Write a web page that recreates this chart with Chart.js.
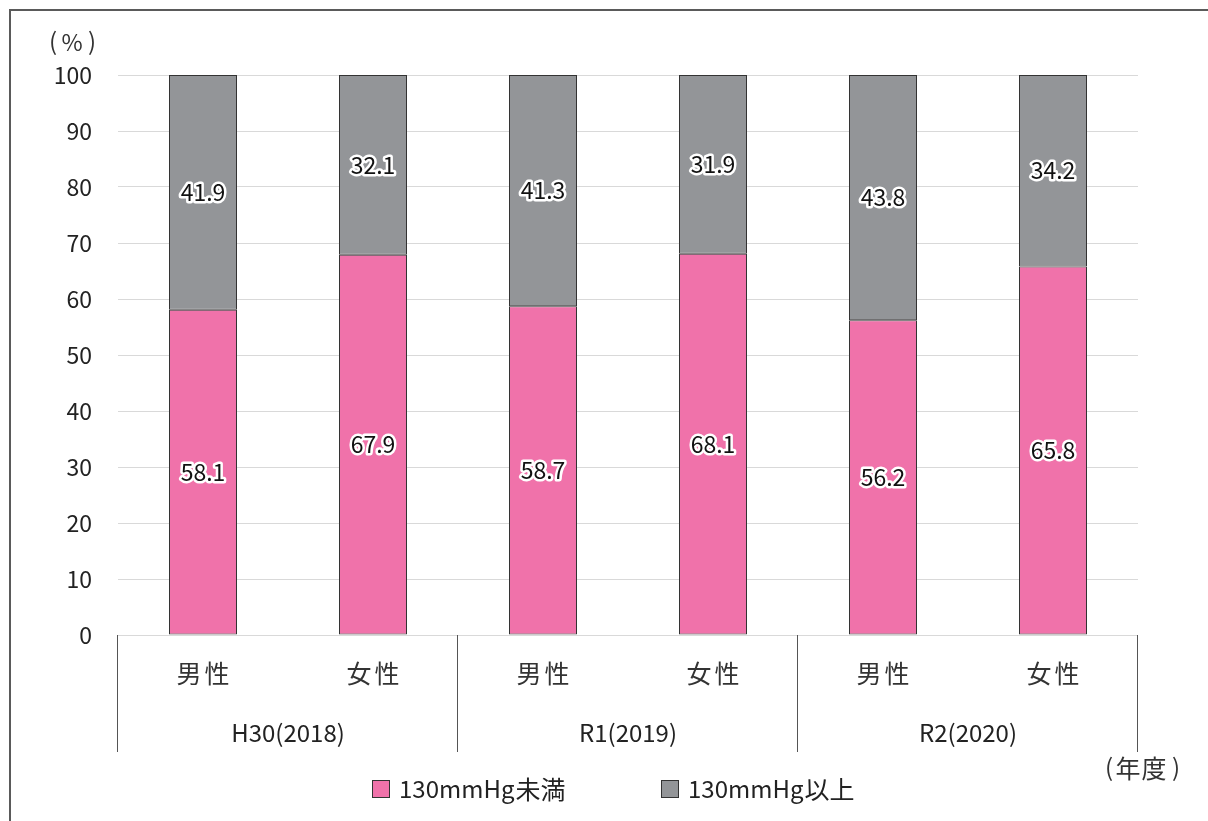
<!DOCTYPE html>
<html>
<head>
<meta charset="utf-8">
<script src="https://cdn.jsdelivr.net/npm/chart.js@4/dist/chart.umd.min.js"></script>
<style>
  html, body { margin: 0; padding: 0; background: #fff; }
  #wrap { width: 1208px; height: 821px; position: relative; }
</style>
</head>
<body>
<div id="wrap"><canvas id="chart"></canvas></div>
<script>
// データ
const sexLabels = ['男性', '女性', '男性', '女性', '男性', '女性'];
const yearLabels = ['H30(2018)', 'R1(2019)', 'R2(2020)'];
const seriesNames = ['130mmHg未満', '130mmHg以上'];
const under130 = [58.1, 67.9, 58.7, 68.1, 56.2, 65.8];
const over130 = [41.9, 32.1, 41.3, 31.9, 43.8, 34.2];
const yTicks = [0, 10, 20, 30, 40, 50, 60, 70, 80, 90, 100];

const PINK = '#f072aa';
const GRAY = '#939598';
const FONT = '"Noto Sans CJK JP", "Noto Sans", sans-serif';

// 1文字ずつ間隔をあけて描く
function spaced(ctx, str, cx, cy, gap) {
  const chars = [...str];
  const start = cx - gap * (chars.length - 1) / 2;
  chars.forEach((c, i) => ctx.fillText(c, start + gap * i, cy));
}

// 枠線・単位・凡例・多段ラベル
const decoPlugin = {
  id: 'deco',
  beforeDraw(chart) {
    const ctx = chart.ctx;
    ctx.save();
    ctx.fillStyle = '#fff';
    ctx.fillRect(0, 0, chart.width, chart.height);
    ctx.strokeStyle = '#5a5a5a';
    ctx.lineWidth = 2;
    ctx.strokeRect(10, 10, chart.width + 20, chart.height + 20);
    ctx.restore();
  },
  afterDraw(chart) {
    const ctx = chart.ctx;
    const area = chart.chartArea;
    const x = chart.scales.x;
    ctx.save();
    ctx.fillStyle = '#333';
    ctx.textAlign = 'center';
    ctx.textBaseline = 'middle';

    // 単位
    ctx.font = '24px ' + FONT;
    ctx.fillText('(', 53, 41);
    ctx.fillText(')', 92, 41);
    ctx.font = '23px ' + FONT;
    ctx.fillText('%', 72, 42);
    ctx.font = '24px ' + FONT;
    ctx.fillText('(', 1109, 767);
    ctx.fillText(')', 1176, 767);
    ctx.font = '25px ' + FONT;
    spaced(ctx, '年度', 1141, 768, 26);

    // 男性/女性
    ctx.font = '25px ' + FONT;
    sexLabels.forEach((s, i) => {
      spaced(ctx, s, x.getPixelForValue(i), 673, 28);
    });
    // 年度
    ctx.font = '24px ' + FONT;
    ctx.fillStyle = '#222';
    yearLabels.forEach((y, i) => {
      const cx = (x.getPixelForValue(i * 2) + x.getPixelForValue(i * 2 + 1)) / 2;
      ctx.fillText(y, cx, 733);
    });
    // 区切り線
    ctx.strokeStyle = '#555';
    ctx.lineWidth = 1;
    const step = (area.right - area.left) / yearLabels.length;
    for (let i = 0; i <= yearLabels.length; i++) {
      const px = Math.round(area.left + step * i) - 0.5;
      ctx.beginPath();
      ctx.moveTo(px, area.bottom);
      ctx.lineTo(px, 752);
      ctx.stroke();
    }

    // 凡例（英数字と漢字で大きさを変える）
    const legendX = [372, 661];
    ctx.textAlign = 'left';
    seriesNames.forEach((n, i) => {
      const ds = chart.data.datasets[i];
      ctx.fillStyle = ds.backgroundColor;
      ctx.fillRect(legendX[i], 780, 18, 18);
      ctx.strokeStyle = '#333';
      ctx.strokeRect(legendX[i] + 0.5, 780.5, 17, 17);
      ctx.fillStyle = '#222';
      const latin = n.slice(0, 7);
      const kanji = n.slice(7);
      ctx.font = '24px ' + FONT;
      const tx = legendX[i] + 27;
      ctx.fillText(latin, tx, 789);
      const w = ctx.measureText(latin).width;
      ctx.font = '25px ' + FONT;
      ctx.fillText(kanji, tx + w + 1, 789);
    });
    ctx.restore();
  }
};

// 棒の中の数値（白縁取り）
const valueLabels = {
  id: 'valueLabels',
  afterDatasetsDraw(chart) {
    const ctx = chart.ctx;
    ctx.save();
    ctx.font = '23px ' + FONT;
    ctx.textAlign = 'center';
    ctx.textBaseline = 'middle';
    ctx.lineJoin = 'round';
    chart.data.datasets.forEach((ds, di) => {
      chart.getDatasetMeta(di).data.forEach((bar, i) => {
        const cy = (bar.y + bar.base) / 2;
        const txt = ds.data[i].toFixed(1);
        ctx.strokeStyle = '#fff';
        ctx.lineWidth = 5;
        ctx.strokeText(txt, bar.x, cy);
        ctx.fillStyle = '#111';
        ctx.fillText(txt, bar.x, cy);
      });
    });
    ctx.restore();
  }
};

const ctx = document.getElementById('chart').getContext('2d');
new Chart(ctx, {
  type: 'bar',
  data: {
    labels: sexLabels,
    datasets: [
      {
        label: seriesNames[0],
        data: under130,
        backgroundColor: PINK,
        borderColor: '#333',
        borderWidth: 1,
        borderSkipped: false,
        categoryPercentage: 1,
        barPercentage: 0.4
      },
      {
        label: seriesNames[1],
        data: over130,
        backgroundColor: GRAY,
        borderColor: '#333',
        borderWidth: 1,
        borderSkipped: false,
        categoryPercentage: 1,
        barPercentage: 0.4
      }
    ]
  },
  options: {
    responsive: true,
    maintainAspectRatio: false,
    animation: false,
    layout: { padding: { left: 10, right: 70, top: 75, bottom: 186 } },
    plugins: {
      legend: { display: false },
      tooltip: { enabled: false }
    },
    scales: {
      x: {
        stacked: true,
        display: false
      },
      y: {
        stacked: true,
        min: 0,
        max: 100,
        afterFit(scale) { scale.width = 108; },
        afterBuildTicks(scale) { scale.ticks = yTicks.map(v => ({ value: v })); },
        grid: { color: '#d9d9d9', lineWidth: 1, drawTicks: false },
        border: { display: false },
        ticks: {
          padding: 26,
          color: '#222',
          font: { family: FONT, size: 23 }
        }
      }
    }
  },
  plugins: [decoPlugin, valueLabels]
});
</script>
</body>
</html>
